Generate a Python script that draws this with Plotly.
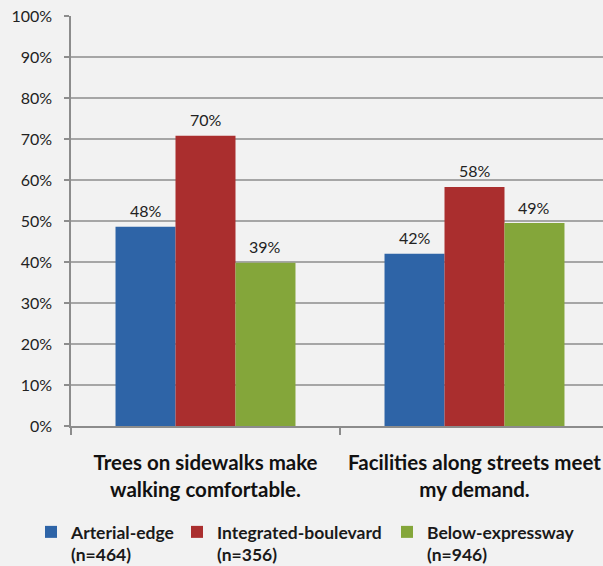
import plotly.graph_objects as go

categories = ["Trees on sidewalks make<br>walking comfortable.",
              "Facilities along streets meet<br>my demand."]
series_names = ["Arterial-edge<br>(n=464)", "Integrated-boulevard<br>(n=356)", "Below-expressway<br>(n=946)"]
arterial = [48.6, 42.0]
integrated = [70.8, 58.3]
below = [39.8, 49.5]
arterial_lbl = ["48%", "42%"]
integrated_lbl = ["70%", "58%"]
below_lbl = ["39%", "49%"]
y_ticks = [0, 10, 20, 30, 40, 50, 60, 70, 80, 90, 100]
y_tick_text = [f"{v}%" for v in y_ticks]

colors = ["#2E64A7", "#AA2E2E", "#84A63A"]
series = [arterial, integrated, below]
labels = [arterial_lbl, integrated_lbl, below_lbl]
legends = ["legend", "legend2", "legend3"]

W, H = 603, 566
ml, mr, mt, mb = 71, 0, 16, 140
pw = W - ml - mr
cat_px = 269.0
bargap = 0.331
bar_px = cat_px * (1 - bargap) / 3

fig = go.Figure()
for name, vals, col, lg in zip(series_names, series, colors, legends):
    fig.add_trace(go.Bar(
        x=categories, y=vals, name=name, marker_color=col,
        marker_line_width=0, legend=lg, showlegend=True,
    ))

annotations = []
for i, (vals, lbl) in enumerate(zip(series, labels)):
    for cat, v, t in zip(categories, vals, lbl):
        annotations.append(dict(
            x=cat, y=v, xref="x", yref="y", text=t, showarrow=False,
            xshift=(i - 1) * bar_px, yshift=16, yanchor="middle",
            font=dict(family="Lato", size=16, color="#222222"),
        ))

def px2paper(px):
    return (px - ml) / pw

leg_common = dict(orientation="h", yanchor="top", xanchor="left",
                  font=dict(family="Lato", size=17.5, color="#1a1a1a", weight="bold"),
                  bgcolor="rgba(0,0,0,0)", itemwidth=30, valign="top",
                  itemclick=False, itemdoubleclick=False)
leg_y = -(514 - (H - mb)) / (H - mt - mb)
fig.update_layout(
    width=W, height=H,
    margin=dict(l=ml, r=mr, t=mt, b=mb, autoexpand=False),
    paper_bgcolor="#F2F2F2", plot_bgcolor="#F2F2F2",
    barmode="group", bargap=bargap, bargroupgap=0,
    font=dict(family="Lato", color="#1a1a1a"),
    showlegend=True,
    legend=dict(x=px2paper(31), y=leg_y, **leg_common),
    legend2=dict(x=px2paper(177), y=leg_y, **leg_common),
    legend3=dict(x=px2paper(387), y=leg_y, **leg_common),
    annotations=annotations,
    xaxis=dict(
        type="category", range=[-0.5, -0.5 + pw / cat_px],
        showline=True, linecolor="#8c8c8c", linewidth=1.5,
        ticks="outside", tickson="boundaries", ticklen=7, tickcolor="#8c8c8c",
        tickwidth=1.5,
        ticklabelstandoff=18,
        tickfont=dict(family="Lato", size=20.5, color="#111111", weight="bold"),
        showgrid=False, zeroline=False,
    ),
    yaxis=dict(
        range=[0, 100], tickvals=y_ticks, ticktext=y_tick_text,
        showline=True, linecolor="#8c8c8c", linewidth=1.5,
        ticks="outside", ticklen=5, tickcolor="#8c8c8c", tickwidth=1.5,
        ticklabelstandoff=9,
        tickfont=dict(family="Lato", size=16, color="#222222"),
        showgrid=True, gridcolor="#A6A6A6", gridwidth=1.5,
        zeroline=False,
    ),
)

fig.write_html("out.html")
